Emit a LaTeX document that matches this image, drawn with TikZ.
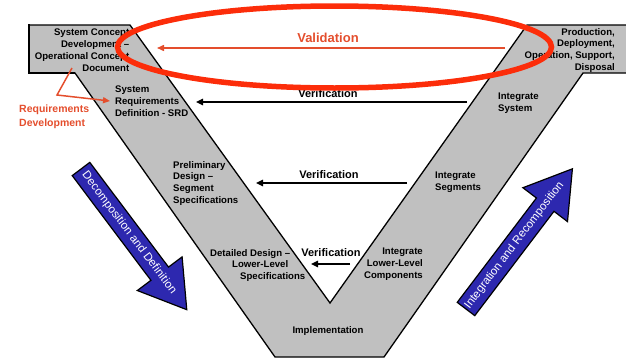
\documentclass[tikz,border=0pt]{standalone}
\usepackage{fontspec}
\setmainfont{Liberation Sans}
\usetikzlibrary{arrows.meta}

\definecolor{vgray}{RGB}{192,192,192}
\definecolor{vblue}{RGB}{45,40,175}
\definecolor{valred}{RGB}{228,78,45}
\definecolor{ringred}{RGB}{252,45,10}

\begin{document}
\begin{tikzpicture}[x=1pt,y=-1pt,
  stage/.style={font=\fontsize{9.6}{11.7}\selectfont\bfseries, inner sep=0pt},
  verlabel/.style={font=\fontsize{11}{13}\selectfont\bfseries, inner sep=0pt},
  verarrow/.style={-{Triangle[length=7pt,width=6.5pt]}, line width=1.4pt},
  redarrow/.style={valred, -{Triangle[length=7pt,width=6pt]}, line width=1.5pt},
  bigarrow/.style={fill=vblue, draw=black, line width=1.2pt, line join=miter},
  arrowtext/.style={font=\fontsize{11.5}{13}\selectfont, text=white, inner sep=0pt}
]
\useasboundingbox (0,0) rectangle (626,359);
\clip (0,0) rectangle (626,359);

% the V body with its two end boxes
\draw[fill=vgray, line width=1.3pt, line join=miter]
  (29,25) -- (130,25) -- (330,303) -- (527,25) -- (640,25) -- (640,73)
  -- (583,73) -- (384,357) -- (275,357) -- (75,73) -- (29,73) -- cycle;
% drop shadow edges of the concept box
\draw[line width=2.6pt] (29,24.4) -- (29,73) -- (75,73);

% stage labels
\node[stage, align=right, anchor=north east] (concept) at (129.5,29)
  {System Concept\\Development –\\Operational Concept\\Document};
\node[stage, align=left, anchor=north west] (srd) at (115,86)
  {System\\Requirements\\Definition - SRD};
\node[stage, align=left, anchor=north west] (prelim) at (173,161)
  {Preliminary\\Design –\\Segment\\Specifications};
\node[stage, align=left, anchor=north west] (detail) at (210,249)
  {Detailed Design –\\\hspace*{22pt}Lower-Level\\\hspace*{30pt}Specifications};
\node[stage] (impl) at (328,331) {Implementation};
\node[stage, align=right, anchor=north east] (intlow) at (423,248)
  {Integrate\\Lower-Level\\Components};
\node[stage, align=left, anchor=north west] (intseg) at (435,172)
  {Integrate\\Segments};
\node[stage, align=left, anchor=north west] (intsys) at (498,93)
  {Integrate\\System};
\node[stage, align=right, anchor=north east] (prod) at (615,28)
  {Production,\\Deployment,\\Operation, Support,\\Disposal};

% requirements development note
\node[valred, font=\fontsize{10.5}{14}\selectfont\bfseries, inner sep=0pt,
  align=left, anchor=north west] (reqdev) at (19,104.5)
  {Requirements\\Development};
\coordinate (rdtop) at (72,68);
\coordinate (rdknee) at (57,95);
\coordinate (rdtip) at (110,101);
\draw[redarrow, line join=miter] (rdtop) -- (rdknee) -- (rdtip);

% verification arrows
\coordinate (v1r) at (467,102); \coordinate (v1l) at (196,102);
\coordinate (v2r) at (407,183); \coordinate (v2l) at (256,183);
\coordinate (v3r) at (350,264); \coordinate (v3l) at (311,264);
\draw[verarrow] (v1r) -- (v1l);
\draw[verarrow] (v2r) -- (v2l);
\draw[verarrow] (v3r) -- (v3l);
\node[verlabel] (ver1) at (328,94) {Verification};
\node[verlabel] (ver2) at (329,175) {Verification};
\node[verlabel] (ver3) at (331,253) {Verification};

% validation arrow
\coordinate (valr) at (505,48); \coordinate (vall) at (157,48);
\draw[redarrow] (valr) -- (vall);
\node[valred, font=\fontsize{13}{15}\selectfont\bfseries, inner sep=0pt] (val) at (328,38) {Validation};

% decomposition block arrow
\begin{scope}[shift={(81,169)}, rotate=-53.06]
  \draw[bigarrow] (0,-11) -- (131,-11) -- (131,-28) -- (176,0) -- (131,28)
    -- (131,11) -- (0,11) -- cycle;
  \node[arrowtext, rotate=-53.06] (decomp) at (80,0) {Decomposition and Definition};
\end{scope}

% integration block arrow
\begin{scope}[shift={(466,309)}, rotate=52.8]
  \draw[bigarrow] (0,-11) -- (131,-11) -- (131,-28) -- (176,0) -- (131,28)
    -- (131,11) -- (0,11) -- cycle;
  \node[arrowtext, rotate=52.8] (integ) at (80,0) {Integration and Recomposition};
\end{scope}

% highlight ring round the validation span
\draw[ringred, line width=5.5pt] (334.5,47) ellipse [x radius=217pt, y radius=41pt];
\end{tikzpicture}
\end{document}
